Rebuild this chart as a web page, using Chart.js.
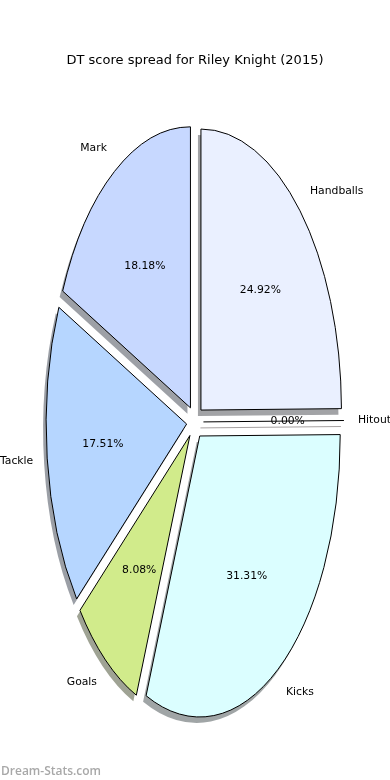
<!DOCTYPE html>
<html>
<head>
<meta charset="utf-8">
<script src="https://cdn.jsdelivr.net/npm/chart.js@4.4.1/dist/chart.umd.min.js"></script>
<style>
    html, body { margin: 0; padding: 0; background: #fff; }
    #wrap { position: relative; width: 390px; height: 780px; }
    #mark { position: absolute; left: 1px; top: 762px; font: 600 12px "Open Sans", sans-serif; color: #a8a8a8; }
</style>
</head>
<body>
<div id="wrap">
    <canvas id="myChart" width="390" height="780"></canvas>
    <div id="mark">Dream-Stats.com</div>
</div>
<script>
let labels = ["Handballs", "Hitout", "Kicks", "Goals", "Tackle", "Mark"]
let scores = [24.92, 0, 31.31, 8.08, 17.51, 18.18]
let colors = ["#eaf0ff", "#ffdede", "#dbfeff", "#d1eb8b", "#b6d6ff", "#c7d8ff"]
let chartTitle = "DT score spread for Riley Knight (2015)"

let explode = 0.06
let stretch = 2       // pie is a tall ellipse, not a circle
let labelDist = 1.1
let pctDist = 0.6
let font = '"DejaVu Sans", sans-serif'

let total = scores.reduce((a, b) => a + b, 0)

// darker, half transparent copy of a slice colour for its shadow
function shade(hex) {
    let n = parseInt(hex.slice(1), 16)
    return `rgba(${((n >> 16) & 255) * 0.3}, ${((n >> 8) & 255) * 0.3}, ${(n & 255) * 0.3}, 0.5)`
}

let ellipsePie = {
    id: "ellipsePie",
    afterUpdate(chart) {
        // push every slice out along its middle angle
        chart.getDatasetMeta(0).data.forEach((arc) => {
            if (arc._exploded) return
            arc._exploded = true
            let draw = arc.draw
            arc.draw = function (ctx, area) {
                let mid = (this.startAngle + this.endAngle) / 2
                let d = explode * this.outerRadius
                ctx.save()
                ctx.shadowColor = shade(this.options.backgroundColor)
                ctx.translate(Math.cos(mid) * d, Math.sin(mid) * d)
                draw.call(this, ctx, area)
                ctx.restore()
            }
        })
    },
    beforeDatasetsDraw(chart) {
        let ctx = chart.ctx
        let arc = chart.getDatasetMeta(0).data[0]
        let base = ctx.getTransform()
        ctx.save()
        ctx.translate(arc.x, arc.y)
        ctx.scale(1, stretch)
        ctx.translate(-arc.x, -arc.y)
        ctx.shadowBlur = 0
        ctx.shadowOffsetX = -3
        ctx.shadowOffsetY = 6
        // outlines keep an even width and cast no shadow
        ctx.stroke = function () {
            this.save()
            this.setTransform(base)
            this.shadowColor = "transparent"
            CanvasRenderingContext2D.prototype.stroke.call(this)
            this.restore()
        }
    },
    afterDatasetsDraw(chart) {
        let ctx = chart.ctx
        delete ctx.stroke
        ctx.restore()

        let meta = chart.getDatasetMeta(0)
        ctx.save()
        meta.data.forEach((arc, i) => {
            let mid = (arc.startAngle + arc.endAngle) / 2
            let r = arc.outerRadius
            let cos = Math.cos(mid), sin = Math.sin(mid)
            let at = (k) => [arc.x + (explode + k) * r * cos, arc.y + (explode + k) * r * sin * stretch]

            if (arc.circumference === 0) {
                // empty slice: only its edge line is left
                let [x0, y0] = at(0)
                let [x1, y1] = at(1)
                ctx.lineWidth = 1
                ctx.strokeStyle = shade(colors[i])
                ctx.beginPath()
                ctx.moveTo(x0 - 3, y0 + 6)
                ctx.lineTo(x1 - 3, y1 + 6)
                ctx.stroke()
                ctx.strokeStyle = "#000"
                ctx.beginPath()
                ctx.moveTo(x0, y0)
                ctx.lineTo(x1, y1)
                ctx.stroke()
            }

            ctx.font = `10.8px ${font}`
            ctx.fillStyle = "#000"
            ctx.textBaseline = "middle"
            let [lx, ly] = at(labelDist)
            ctx.textAlign = cos > 0 ? "left" : "right"
            ctx.fillText(labels[i], lx, ly)
            let [px, py] = at(pctDist)
            ctx.textAlign = "center"
            ctx.fillText((scores[i] / total * 100).toFixed(2) + "%", px, py)
        })
        ctx.restore()
    }
}

let myChart = document.getElementById("myChart").getContext("2d")

new Chart(myChart, {
    type: "pie",
    data: {
        labels: labels,
        datasets: [{
            data: scores,
            backgroundColor: colors,
            borderColor: "#000",
            borderWidth: 1,
            borderJoinStyle: "miter",
            radius: 140.5
        }]
    },
    options: {
        responsive: false,
        animation: false,
        events: [],
        layout: { padding: { bottom: 14.6 } },
        plugins: {
            legend: { display: false },
            tooltip: { enabled: false },
            title: {
                display: true,
                text: chartTitle,
                color: "#000",
                font: { family: font, size: 13, weight: "normal" },
                padding: { top: 53, bottom: 10 }
            }
        }
    },
    plugins: [ellipsePie]
})
</script>
</body>
</html>
